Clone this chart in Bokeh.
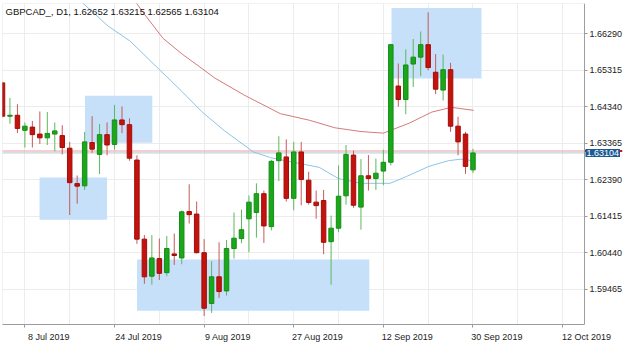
from bokeh.plotting import figure
from bokeh.models import (ColumnDataSource, FixedTicker, Label, BoxAnnotation,
                          PrintfTickFormatter, LinearAxis, Range1d)
from bokeh.embed import file_html
from bokeh.resources import INLINE

symbol = "GBPCAD_"
timeframe = "D1"

# bar index 0 = 8 Jul 2019 (daily bars, weekends skipped)
bar_index = list(range(-3, 61))
opens = [1.64975, 1.64085, 1.64110, 1.63708, 1.63794, 1.63608, 1.63507, 1.63608,
         1.63567, 1.63231, 1.62285, 1.62225, 1.63381, 1.63065, 1.63593, 1.63331,
         1.63985, 1.63859, 1.62914, 1.60802, 1.59812, 1.60282, 1.59906, 1.60407,
         1.60299, 1.61539, 1.61471, 1.60440, 1.59083, 1.59796, 1.59419, 1.60551,
         1.60817, 1.61345, 1.61514, 1.62016, 1.61136, 1.62896, 1.62997, 1.61891,
         1.63130, 1.62376, 1.61790, 1.61833, 1.60734, 1.61094, 1.61959, 1.63047,
         1.61657, 1.62494, 1.62419, 1.62620, 1.62854, 1.64890, 1.64530, 1.65478,
         1.65662, 1.65996, 1.65259, 1.64782, 1.65327, 1.63819, 1.63608, 1.62652]
highs = [1.65008, 1.64573, 1.64405, 1.63919, 1.63960, 1.64211, 1.64196, 1.63919,
         1.63844, 1.63399, 1.62502, 1.63668, 1.64085, 1.63877, 1.63919, 1.64387,
         1.64347, 1.64028, 1.63040, 1.60910, 1.60910, 1.60817, 1.60885, 1.60953,
         1.61564, 1.62268, 1.61808, 1.60802, 1.60214, 1.60717, 1.60777, 1.61514,
         1.61589, 1.61966, 1.62293, 1.62099, 1.62921, 1.63550, 1.63467, 1.63399,
         1.63399, 1.62602, 1.62099, 1.62117, 1.61431, 1.62771, 1.63316, 1.63165,
         1.62939, 1.63047, 1.62954, 1.63190, 1.66014, 1.65493, 1.65870, 1.66147,
         1.66348, 1.66861, 1.65745, 1.65730, 1.65511, 1.64070, 1.63668, 1.63215]
lows = [1.64053, 1.63884, 1.63633, 1.63248, 1.63248, 1.63341, 1.63316, 1.63148,
        1.63065, 1.61446, 1.61747, 1.62117, 1.63105, 1.62544, 1.63040, 1.63190,
        1.63633, 1.62896, 1.60676, 1.59610, 1.59585, 1.59711, 1.59812, 1.60113,
        1.60131, 1.61219, 1.60420, 1.58748, 1.58831, 1.59233, 1.59294, 1.60282,
        1.60691, 1.60450, 1.60842, 1.60701, 1.61036, 1.62351, 1.61808, 1.61571,
        1.61707, 1.61722, 1.61345, 1.60400, 1.59585, 1.60986, 1.61722, 1.61639,
        1.61053, 1.62099, 1.62117, 1.62243, 1.62771, 1.64337, 1.64136, 1.64865,
        1.65159, 1.65310, 1.64674, 1.64505, 1.63668, 1.63040, 1.62544, 1.62565]
closes = [1.64085, 1.64110, 1.63758, 1.63819, 1.63593, 1.63507, 1.63625, 1.63693,
          1.63248, 1.62310, 1.62217, 1.63399, 1.63205, 1.63593, 1.63316, 1.63985,
          1.63859, 1.62964, 1.60802, 1.59796, 1.60299, 1.59888, 1.60551, 1.60365,
          1.61531, 1.61456, 1.60440, 1.58957, 1.59796, 1.59402, 1.60551, 1.60827,
          1.61053, 1.61790, 1.62016, 1.61154, 1.62879, 1.63105, 1.61891, 1.63130,
          1.62393, 1.61782, 1.61697, 1.60717, 1.61094, 1.61948, 1.63065, 1.61707,
          1.62494, 1.62419, 1.62562, 1.62854, 1.65996, 1.64530, 1.65453, 1.65662,
          1.65996, 1.65385, 1.64807, 1.65327, 1.63819, 1.63399, 1.62745, 1.63104]
ask_price = 1.63155

# moving averages (at sample bars)
ma_fast_x = [7.4, 11.1, 14.1, 17.2, 21.1, 23.7, 26.7, 30.6, 32.9, 34.9, 39.4,
             42.0, 45.0, 48.9, 51.1, 54.1, 56.7, 58.4, 60.0]
ma_fast_y = [1.67170, 1.66499, 1.66089, 1.65486, 1.64731, 1.64203, 1.63701,
             1.63130, 1.62979, 1.62896, 1.62720, 1.62419, 1.62293, 1.62293,
             1.62476, 1.62745, 1.62896, 1.62939, 1.62896]
ma_slow_x = [14.7, 15.9, 18.5, 21.1, 23.7, 25.4, 29.3, 34.2, 38.1, 41.5, 45.0,
             48.0, 51.5, 54.5, 57.1, 60.1]
ma_slow_y = [1.67170, 1.66836, 1.66164, 1.65737, 1.65360, 1.65108, 1.64656,
             1.64153, 1.63977, 1.63776, 1.63675, 1.63633, 1.63902, 1.64196,
             1.64322, 1.64241]

# drawn rectangles (bar index / price)
rect_left = [8.05, 1.96, 15.01, 49.09]
rect_right = [17.06, 11.0, 46.12, 61.14]
rect_top = [1.64631, 1.62451, 1.60257, 1.66976]
rect_bottom = [1.63374, 1.61320, 1.58890, 1.65091]

date_ticks = [0, 12, 24, 36, 48, 60, 72]
date_labels = ["8 Jul 2019", "24 Jul 2019", "9 Aug 2019", "27 Aug 2019",
               "12 Sep 2019", "30 Sep 2019", "12 Oct 2019"]
grid_x = [0, 6, 12, 18, 24, 30, 36, 42, 48, 54, 60, 66, 72]
price_ticks = [1.59465, 1.60440, 1.61415, 1.62390, 1.63365, 1.64340, 1.65315, 1.66290]

# chart area (bars) and price-scale strip to its right
x_start, x_end = -3.0, 74.93
x_full_end = 80.29
y_start, y_end = 1.58522, 1.67095
label_shift = 3.2   # date labels start at their tick, as in the terminal

UP = "#1aa81a"
UP_LINE = "#168c16"
DOWN = "#c4120c"
DOWN_LINE = "#a00e0a"
UP_WICK = "#5cb85c"
DOWN_WICK = "#c65a5a"
AXIS = "#9a9a9a"
FONT = "Liberation Sans"

p = figure(width=624, height=344, x_range=(x_start, x_full_end),
           y_range=(y_start, y_end), output_backend="svg", toolbar_location=None,
           y_axis_location="right", x_axis_location=None,
           min_border_left=2, min_border_top=3, min_border_right=0,
           min_border_bottom=16, background_fill_color="white",
           border_fill_color="white")
p.outline_line_color = None

# grids (vertical every 6 bars, horizontal at price ticks)
p.xgrid.ticker = FixedTicker(ticks=grid_x)
p.xgrid.grid_line_color = "#ececec"
p.ygrid.grid_line_color = "#ececec"
# keep the price-scale strip clean
p.add_layout(BoxAnnotation(left=x_end, fill_color="white", fill_alpha=1,
                           line_color=None, level="underlay"))

# drawn rectangles
p.quad(left=rect_left, right=rect_right, top=rect_top, bottom=rect_bottom,
       fill_color="#c6e0fa", line_color=None)

# bid / ask lines
p.segment(x0=[x_start], x1=[x_end], y0=[ask_price], y1=[ask_price],
          line_color="#e8a0a0", line_width=1)
p.segment(x0=[x_start], x1=[x_end], y0=[closes[-1]], y1=[closes[-1]],
          line_color="#bcc6d2", line_width=1)

# moving averages
p.line(ma_slow_x, ma_slow_y, line_color="#d47a7a", line_width=1)
p.line(ma_fast_x, ma_fast_y, line_color="#8cc4e6", line_width=1)

# candles
up = [c >= o for o, c in zip(opens, closes)]
src = ColumnDataSource(dict(
    x=bar_index,
    high=highs, low=lows,
    top=[max(o, c) for o, c in zip(opens, closes)],
    bottom=[min(o, c) for o, c in zip(opens, closes)],
    fill=[UP if u else DOWN for u in up],
    edge=[UP_LINE if u else DOWN_LINE for u in up],
    wick=[UP_WICK if u else DOWN_WICK for u in up],
))
p.segment(x0="x", y0="high", x1="x", y1="low", line_color="wick", line_width=1, source=src)
p.vbar(x="x", top="top", bottom="bottom", width=0.6, fill_color="fill",
       line_color="edge", line_width=1, source=src)

# chart border (left / top)
p.add_layout(BoxAnnotation(left=x_start, right=x_end, bottom=y_start, top=y_end,
                           fill_color=None, line_color="#a8a8a8", line_width=1))

# price scale on the right edge of the chart area
p.yaxis.fixed_location = x_end
p.yaxis.ticker = FixedTicker(ticks=price_ticks)
p.yaxis.formatter = PrintfTickFormatter(format="%.5f")
p.yaxis.major_label_text_font = FONT
p.yaxis.major_label_text_font_size = "9px"
p.yaxis.major_label_text_color = "#222222"
p.yaxis.major_label_standoff = 2
p.yaxis.axis_line_color = AXIS
p.yaxis.major_tick_line_color = AXIS
p.yaxis.major_tick_in = 0
p.yaxis.major_tick_out = 3
p.yaxis.minor_tick_line_color = None

# time scale: tick marks at the bars, labels starting at their tick
p.extra_x_ranges = {"dates": Range1d(x_start - label_shift, x_full_end - label_shift)}
xaxis = LinearAxis(x_range_name="dates",
                   ticker=FixedTicker(ticks=date_ticks,
                                      minor_ticks=[t - label_shift for t in date_ticks]),
                   major_label_overrides={t: s for t, s in zip(date_ticks, date_labels)},
                   bounds=(x_start - label_shift, x_end - label_shift))
xaxis.axis_line_color = AXIS
xaxis.major_tick_line_color = None
xaxis.major_tick_out = 0
xaxis.major_tick_in = 0
xaxis.minor_tick_line_color = AXIS
xaxis.minor_tick_out = 3
xaxis.minor_tick_in = 0
xaxis.major_label_standoff = 4
xaxis.major_label_text_font = FONT
xaxis.major_label_text_font_size = "9px"
xaxis.major_label_text_color = "#222222"
p.add_layout(xaxis, "below")

# title inside the chart
title = "%s, %s, %.5f %.5f %.5f %.5f" % (symbol, timeframe, opens[-1], highs[-1], lows[-1], closes[-1])
p.add_layout(Label(x=x_start, y=y_end, x_offset=3, y_offset=-2, text=title,
                   text_align="left", text_baseline="top", text_font=FONT,
                   text_font_size="9.5px", text_color="#111111"))

# current price box on the price scale
p.add_layout(Label(x=x_end, y=closes[-1], x_offset=1, text="%.5f" % closes[-1],
                   text_align="left", text_baseline="middle", text_font=FONT,
                   text_font_size="9px", text_color="white",
                   background_fill_color="#1d5a94", padding=1))
p.segment(x0=[x_end], x1=[x_full_end - 0.3], y0=[ask_price], y1=[ask_price],
          line_color="#d01818", line_width=2)

open("out.html", "w").write(file_html(p, INLINE))
